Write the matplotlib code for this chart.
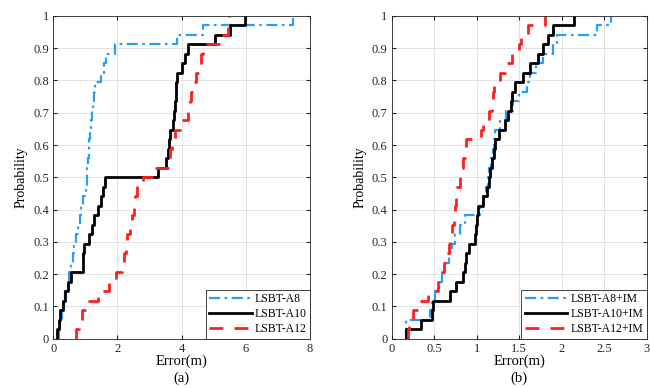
import numpy as np
import matplotlib
matplotlib.use("Agg")
import matplotlib.pyplot as plt

plt.rcParams['font.family'] = ['Liberation Serif', 'DejaVu Serif']

# ---- data (sorted error samples) ----
a8 = [0.18, 0.22, 0.27, 0.33, 0.38, 0.45, 0.50, 0.55, 0.60, 0.66, 0.71, 0.76, 0.82, 0.87, 0.93,
      1.02, 1.04, 1.06, 1.08, 1.10, 1.12, 1.15, 1.18, 1.20, 1.23, 1.27, 1.30,
      1.50, 1.58, 1.65, 1.92, 3.84, 4.67, 7.48]
a10 = [0.13, 0.18, 0.22, 0.30, 0.38, 0.45, 0.55, 0.91, 0.93, 0.95, 1.12, 1.20, 1.28, 1.38, 1.48,
       1.56, 1.62, 3.27, 3.51, 3.58, 3.60, 3.63, 3.72, 3.75, 3.79, 3.81, 3.83, 3.85, 4.00,
       4.10, 4.20, 5.04, 5.50, 5.97]
a12 = [0.71, 0.80, 0.90, 1.10, 1.40, 1.75, 1.95, 2.15, 2.20, 2.25, 2.30, 2.38, 2.45, 2.50,
       2.55, 2.62, 2.80, 3.15, 3.60, 3.65, 3.70, 3.80, 3.95, 4.20, 4.25, 4.30, 4.38, 4.45,
       4.55, 4.60, 4.65, 5.24, 5.44, 5.46]

a8_im = [0.17, 0.17, 0.45, 0.47, 0.51, 0.56, 0.59, 0.63, 0.67, 0.71, 0.75, 0.80, 0.86, 1.04,
         1.08, 1.11, 1.13, 1.15, 1.17, 1.19, 1.20, 1.22, 1.28, 1.35, 1.43, 1.50, 1.59, 1.63,
         1.70, 1.78, 1.90, 1.95, 2.41, 2.58]
a10_im = [0.165, 0.35, 0.47, 0.49, 0.69, 0.76, 0.835, 0.86, 0.88, 0.91, 0.98, 0.99, 1.00, 1.02,
          1.08, 1.12, 1.14, 1.16, 1.18, 1.20, 1.22, 1.26, 1.33, 1.37, 1.40, 1.42, 1.45, 1.55,
          1.63, 1.72, 1.78, 1.84, 1.90, 2.14]
a12_im = [0.19, 0.20, 0.25, 0.33, 0.43, 0.55, 0.59, 0.62, 0.65, 0.68, 0.69, 0.71, 0.73, 0.74,
          0.76, 0.77, 0.80, 0.82, 0.84, 0.86, 0.88, 1.05, 1.08, 1.15, 1.18, 1.19, 1.20, 1.27,
          1.33, 1.41, 1.50, 1.52, 1.60, 1.80]

labels_a = ['LSBT-A8', 'LSBT-A10', 'LSBT-A12']
labels_b = ['LSBT-A8+IM', 'LSBT-A10+IM', 'LSBT-A12+IM']
yticks = [0, 0.1, 0.2, 0.3, 0.4, 0.5, 0.6, 0.7, 0.8, 0.9, 1]
ytick_labels = ['0', '0.1', '0.2', '0.3', '0.4', '0.5', '0.6', '0.7', '0.8', '0.9', '1']
xticks_a = [0, 2, 4, 6, 8]
xticks_b = [0, 0.5, 1, 1.5, 2, 2.5, 3]
xtick_labels_b = ['0', '0.5', '1', '1.5', '2', '2.5', '3']

blue = '#2a9df4'
red = '#ff1f1f'
styles = [dict(color=blue, lw=1.6, dashes=(5, 2, 1.2, 2)),
          dict(color='black', lw=2.0, linestyle='-'),
          dict(color=red, lw=2.0, dashes=(5, 4))]


def ecdf_step(ax, data, label, st):
    x = np.sort(np.asarray(data, dtype=float))
    n = len(x)
    xs = np.concatenate([[x[0]], x])
    ys = np.concatenate([[0.0], np.arange(1, n + 1) / n])
    ax.step(xs, ys, where='post', label=label, **st)


fig = plt.figure(figsize=(6.5, 3.88), dpi=100)
ax1 = fig.add_axes([0.082, 0.127, 0.395, 0.832])
ax2 = fig.add_axes([0.6026, 0.127, 0.3923, 0.832])

for ax, series, labels, xt, xtl, xlim, tag in [
        (ax1, [a8, a10, a12], labels_a, xticks_a, [str(v) for v in xticks_a], (0, 8), '(a)'),
        (ax2, [a8_im, a10_im, a12_im], labels_b, xticks_b, xtick_labels_b, (0, 3), '(b)')]:
    for d, lab, st in zip(series, labels, styles):
        ecdf_step(ax, d, lab, st)
    ax.set_xlim(*xlim)
    ax.set_ylim(0, 1)
    ax.set_xticks(xt)
    ax.set_xticklabels(xtl)
    ax.set_yticks(yticks)
    ax.set_yticklabels(ytick_labels)
    ax.grid(True, color='#e3e3e3', linewidth=0.7)
    ax.set_axisbelow(True)
    ax.tick_params(direction='in', length=3, labelsize=9, colors='#262626', top=True, right=True,
                   labeltop=False, labelright=False, pad=3)
    for sp in ax.spines.values():
        sp.set_color('#262626')
        sp.set_linewidth(0.6)
    ax.set_ylabel('Probability', fontsize=10, labelpad=4)
    ax.set_xlabel('Error(m)', fontsize=10.5, labelpad=0)
    ax.text(0.5, -0.122, tag, transform=ax.transAxes, ha='center', va='center', fontsize=10.5)
    leg = ax.legend(loc='lower right', fontsize=8.5, frameon=True, fancybox=False,
                    edgecolor='#262626', framealpha=1, handlelength=3.6,
                    borderpad=0.3, labelspacing=0.25, handletextpad=0.25, borderaxespad=0.0)
    leg.get_frame().set_linewidth(0.6)

fig.savefig('out.png', dpi=100)
